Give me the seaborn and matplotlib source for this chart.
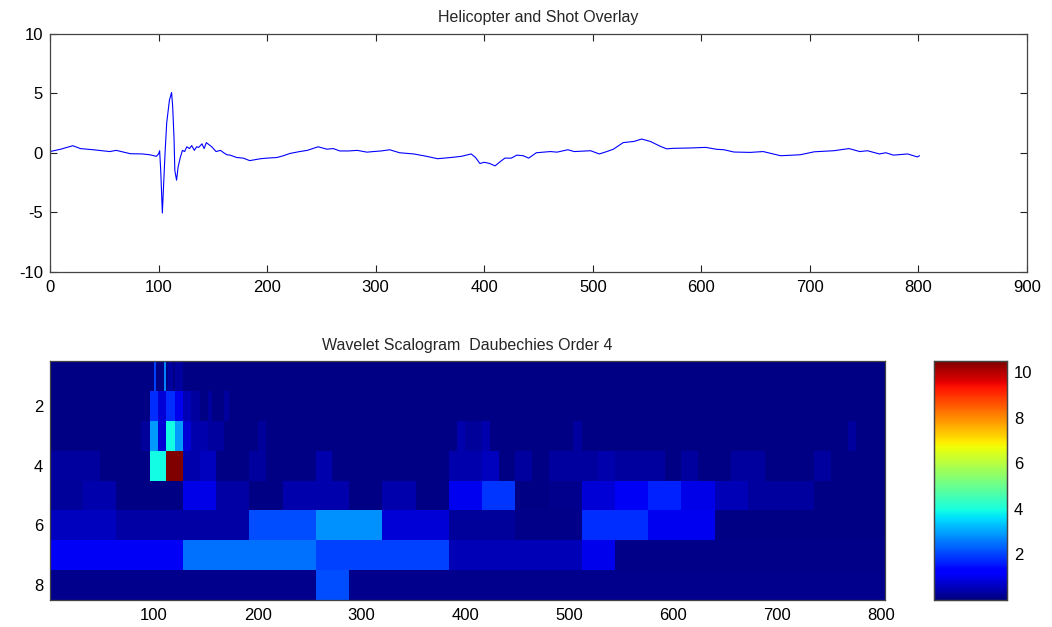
import numpy as np
import pandas as pd
import matplotlib
matplotlib.use("Agg")
import matplotlib.pyplot as plt
import seaborn as sns

# ---------------- data: signal ----------------
sig_x = [0, 10, 21, 28, 40, 55, 61, 74, 85, 92, 98, 100, 101, 102, 103.5, 104.5, 106, 107.5,
         110, 112, 113, 114.3, 115, 116.6, 118, 120, 122, 124, 126, 128.5, 130.5, 133, 135,
         137, 140, 142, 144, 149, 153, 157, 160, 163, 166, 172, 178, 184, 194, 200, 209, 215,
         221, 230, 237, 247, 255, 261, 267, 275, 283, 292, 298, 305, 313, 322, 335, 347, 357,
         369, 379, 388, 392, 396, 400, 405, 410, 414, 419, 425, 430, 436, 441, 448, 461, 467,
         477, 483, 498, 506, 513, 519, 528, 538, 545, 553, 562, 568, 574, 590, 604, 614, 621,
         630, 645, 657, 673, 691, 704, 722, 736, 746, 753, 764, 770, 777, 790, 799, 801]
sig_y = [0.1, 0.3, 0.59, 0.35, 0.25, 0.1, 0.2, -0.08, -0.1, -0.17, -0.3, -0.1, 0.17, -1.5,
         -5.05, -3.0, 0.0, 2.5, 4.4, 5.05, 3.9, 1.1, -1.5, -2.3, -1.2, -0.4, 0.2, 0.1, 0.5,
         0.35, 0.6, 0.2, 0.5, 0.45, 0.75, 0.35, 0.85, 0.5, 0.1, 0.2, 0.0, -0.17, -0.2, -0.4,
         -0.45, -0.66, -0.5, -0.45, -0.4, -0.25, -0.06, 0.1, 0.2, 0.5, 0.3, 0.35, 0.15, 0.15,
         0.2, 0.05, 0.1, 0.15, 0.25, 0.0, -0.1, -0.3, -0.5, -0.4, -0.3, -0.1, -0.4, -0.9, -0.8,
         -0.9, -1.1, -0.8, -0.45, -0.45, -0.2, -0.25, -0.45, 0.0, 0.1, 0.05, 0.25, 0.1, 0.17,
         -0.1, 0.1, 0.3, 0.85, 0.95, 1.15, 0.95, 0.55, 0.33, 0.37, 0.4, 0.45, 0.29, 0.25, 0.06,
         0.03, 0.1, -0.25, -0.17, 0.08, 0.17, 0.35, 0.1, 0.17, -0.1, 0.0, -0.2, -0.1, -0.35,
         -0.25]

# ---------------- data: scalogram (scale rows, background + (start, end, value) cells) ----------------
n_samples = 804
scale_labels = [1, 2, 3, 4, 5, 6, 7, 8]
row_background = [0.05, 0.05, 0.05, 0.05, 0.05, 0.05, 0.1, 0.15]
row1_cells = [(100, 102, 2.0), (110, 112, 2.7), (114, 118, 0.3), (120, 128, 0.3)]
row2_cells = [(96, 104, 1.8), (104, 112, 0.8), (112, 120, 1.8), (120, 128, 1.0), (128, 136, 0.5),
              (136, 144, 0.3), (152, 156, 0.3), (168, 172, 0.3)]
row3_cells = [(88, 96, 0.25), (96, 104, 2.9), (104, 112, 0.8), (112, 120, 3.9), (120, 128, 2.9),
              (128, 136, 0.8), (136, 152, 0.45), (152, 168, 0.3), (200, 208, 0.25),
              (392, 400, 0.45), (400, 416, 0.25), (416, 424, 0.45), (504, 512, 0.3), (768, 776, 0.3)]
row4_cells = [(0, 48, 0.3), (96, 112, 3.9), (112, 128, 10.5), (128, 144, 0.45), (144, 160, 0.6),
              (192, 208, 0.3), (256, 272, 0.45), (384, 416, 0.45), (416, 432, 0.6), (448, 464, 0.3),
              (480, 528, 0.3), (528, 544, 0.45), (544, 592, 0.3), (608, 624, 0.3), (656, 688, 0.3),
              (736, 752, 0.3)]
row5_cells = [(0, 32, 0.25), (32, 64, 0.45), (128, 160, 0.97), (160, 192, 0.35), (224, 288, 0.45),
              (320, 352, 0.45), (384, 416, 1.05), (416, 448, 1.85), (480, 512, 0.15), (512, 544, 0.8),
              (544, 576, 1.1), (576, 608, 1.65), (608, 640, 0.97), (640, 672, 0.5), (672, 736, 0.3)]
row6_cells = [(0, 64, 0.6), (64, 192, 0.35), (192, 256, 2.1), (256, 320, 2.8), (320, 384, 0.8),
              (384, 448, 0.26), (448, 512, 0.1), (512, 576, 1.8), (576, 640, 1.05)]
row7_cells = [(0, 128, 1.1), (128, 256, 2.5), (256, 384, 2.0), (384, 512, 0.5), (512, 544, 1.0)]
row8_cells = [(256, 288, 2.1)]
all_cells = [row1_cells, row2_cells, row3_cells, row4_cells,
             row5_cells, row6_cells, row7_cells, row8_cells]

mat = np.zeros((len(scale_labels), n_samples))
for r, (bg, cells) in enumerate(zip(row_background, all_cells)):
    mat[r, :] = bg
    for s, e, v in cells:
        mat[r, s:e] = v
scal_df = pd.DataFrame(mat, index=scale_labels)

# ---------------- figure ----------------
sns.set_theme(style="white")
plt.rcParams['font.family'] = ['Liberation Sans', 'DejaVu Sans']
plt.rcParams['axes.unicode_minus'] = False

W, H = 1052, 627
fig = plt.figure(figsize=(W / 100, H / 100), dpi=100)
fig.patch.set_facecolor("white")

def fr(l, t, r, b):
    return [l / W, 1 - b / H, (r - l) / W, (b - t) / H]

ax1 = fig.add_axes(fr(50, 33.5, 1027, 272))
ax2 = fig.add_axes(fr(50, 361, 885, 600))
cax = fig.add_axes(fr(934, 361, 1007, 600))

# top: signal
sns.lineplot(x=sig_x, y=sig_y, ax=ax1, color=(0, 0, 1), linewidth=0.8, estimator=None, sort=False)
ax1.set_xlim(0, 900)
ax1.set_ylim(-10, 10)
ax1.set_xticks(range(0, 901, 100))
ax1.set_yticks([-10, -5, 0, 5, 10])
ax1.set_title("Helicopter and Shot Overlay", fontsize=11.5, pad=8)

# bottom: scalogram
sns.heatmap(scal_df, ax=ax2, cmap="jet", vmin=0, vmax=10.5, cbar_ax=cax,
            xticklabels=False, yticklabels=False)
ax2.set_xticks(range(100, 801, 100))
ax2.set_xticklabels([str(v) for v in range(100, 801, 100)])
ax2.set_yticks([1.5, 3.5, 5.5, 7.5])
ax2.set_yticklabels(["2", "4", "6", "8"])
ax2.set_xlabel("")
ax2.set_ylabel("")
ax2.set_title("Wavelet Scalogram  Daubechies Order 4", fontsize=11.5, pad=8)

for ax in (ax1, ax2):
    for sp in ax.spines.values():
        sp.set_visible(True)
        sp.set_color("#444444")
        sp.set_linewidth(0.9)
    ax.tick_params(axis="both", which="both", direction="in", top=True, right=True,
                   bottom=True, left=True, length=5, width=0.8, colors="#222222",
                   labelsize=12, labelcolor="black", pad=5)
    ax.tick_params(axis="x", pad=6)

cax.tick_params(direction="in", left=True, right=True, length=5, width=0.8,
                labelsize=12, labelcolor="black", pad=5)
cax.set_yticks([2, 4, 6, 8, 10])
cax.set_yticklabels(["2", "4", "6", "8", "10"])
for sp in cax.spines.values():
    sp.set_visible(True)
    sp.set_color("#444444")
    sp.set_linewidth(0.9)
cb = ax2.collections[0].colorbar
cb.outline.set_visible(True)
cb.outline.set_linewidth(0.9)
cb.outline.set_edgecolor("#444444")

fig.savefig("out.png", dpi=100)
